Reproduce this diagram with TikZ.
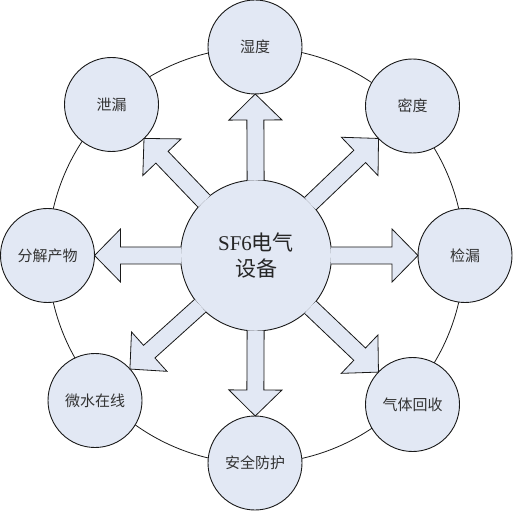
\documentclass[tikz,border=0pt]{standalone}
\usepackage{fontspec}
\setmainfont{Liberation Serif}
\newfontfamily\cjk{Noto Sans CJK SC}
\usetikzlibrary{calc}
\definecolor{bubblefill}{RGB}{226,232,244}
\definecolor{bubbleline}{RGB}{25,25,25}
\tikzset{
  ring/.style={
    draw=bubbleline,
    line width=0.8pt
  },
  hub/.style={
    circle,
    draw=bubbleline,
    line width=0.9pt,
    fill=bubblefill,
    minimum size=151pt,
    inner sep=0pt,
    align=center,
    text=black!85,
    font=\fontsize{21}{26}\selectfont
  },
  leaf/.style={
    circle,
    draw=bubbleline,
    line width=0.9pt,
    fill=bubblefill,
    minimum size=94pt,
    inner sep=0pt,
    text=black!80,
    font=\cjk\fontsize{15}{18}\selectfont
  },
  fatarrow/.style={
    draw=bubbleline,
    line width=0.8pt,
    fill=bubblefill,
    line join=miter
  }
}
% block arrow from the hub (#1) to a leaf (#2)
\newcommand{\blockarrow}[2]{%
  \coordinate (tip)  at ($(#2)!47pt!(#1)$);
  \coordinate (base) at ($(#1)!75pt!(#2)$);
  \coordinate (neck) at ($(tip)!26pt!(base)$);
  \draw[fatarrow]
    ($(base)!8.5pt!90:(tip)$) -- ($(neck)!8.5pt!90:(tip)$)
    -- ($(neck)!26.5pt!90:(tip)$) -- (tip)
    -- ($(neck)!26.5pt!-90:(tip)$) -- ($(neck)!8.5pt!-90:(tip)$)
    -- ($(base)!8.5pt!-90:(tip)$);
}

\begin{document}
\begin{tikzpicture}[x=1pt, y=1pt]

  \useasboundingbox (0,0) rectangle (513,511);

  %% ---- outer ring ----
  \draw[ring] (256,255.5) circle[radius=208pt];

  %% ---- leaves ----
  \node[leaf] (humidity)  at (255,464)     {湿度};
  \node[leaf] (density)   at (412.5,405)   {密度};
  \node[leaf] (detect)    at (465,255.5)   {检漏};
  \node[leaf] (recovery)  at (412.5,106.5) {气体回收};
  \node[leaf] (safety)    at (255,48)      {安全防护};
  \node[leaf] (water)     at (95,110.5)    {微水在线};
  \node[leaf] (products)  at (47.5,255.5)  {分解产物};
  \node[leaf] (leakage)   at (111.5,406.5) {泄漏};

  %% ---- hub ----
  \node[hub] (sf6) at (256,255.5) {SF6{\cjk 电气}\\{\cjk 设备}};

  %% ---- arrows ----
  \foreach \leafname in {humidity, density, detect, recovery, safety, water, products, leakage}
    {\blockarrow{sf6}{\leafname}}

\end{tikzpicture}
\end{document}
